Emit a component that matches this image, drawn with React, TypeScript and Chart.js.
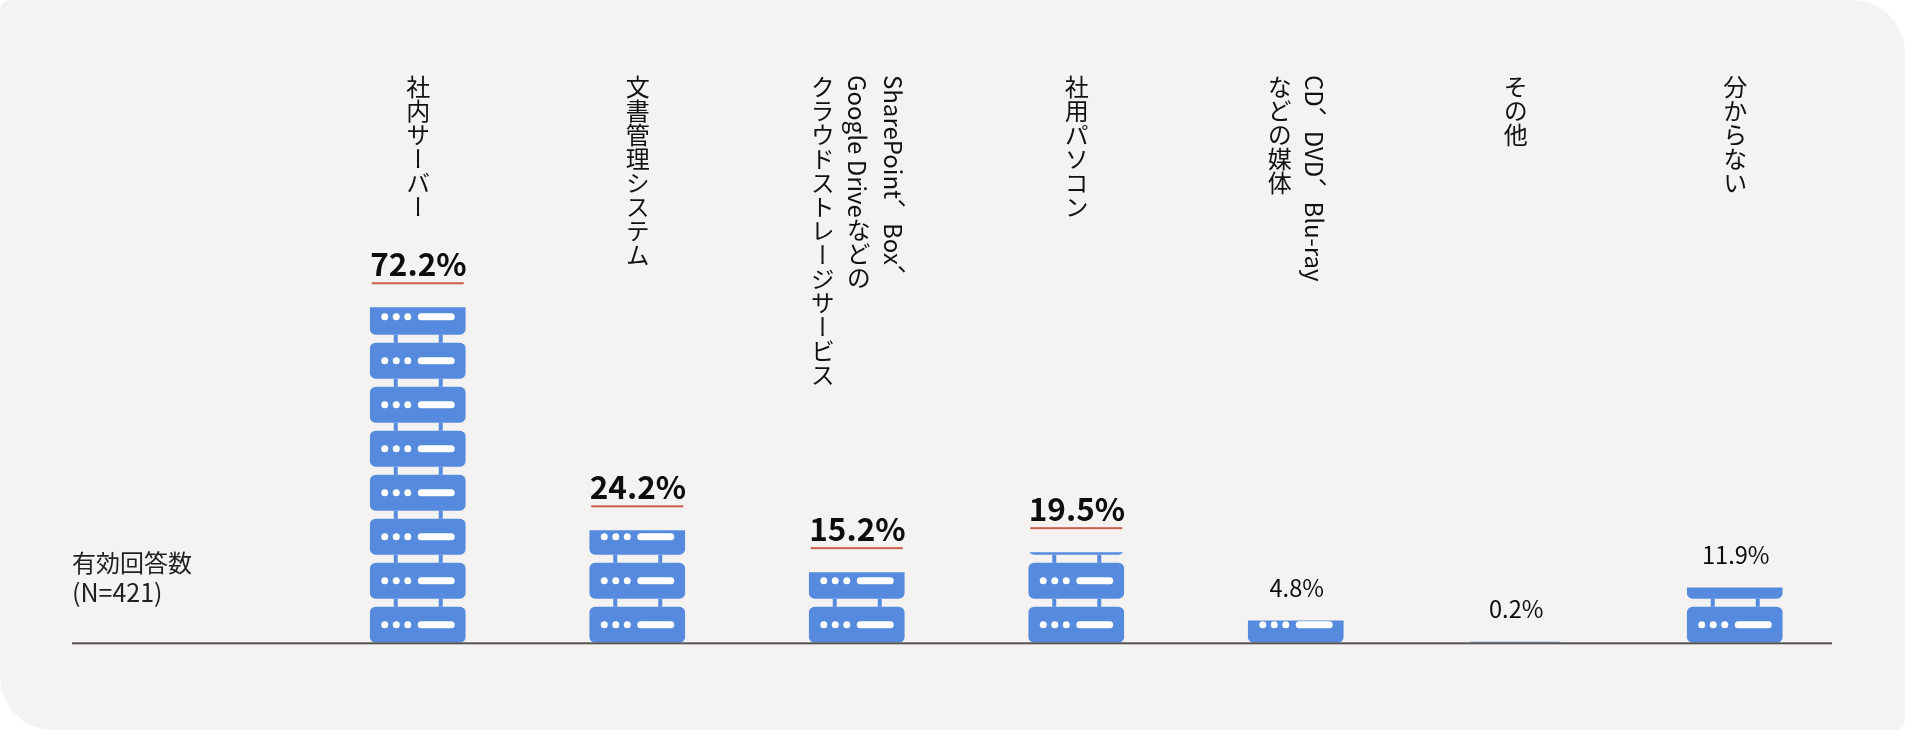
import React, { useEffect, useRef, useState } from "react";
import { Chart, registerables } from "chart.js";

Chart.register(...registerables);

const categories: string[][] = [
  ["社内サーバー"],
  ["文書管理システム"],
  ["SharePoint、Box、", "Google Driveなどの", "クラウドストレージサービス"],
  ["社用パソコン"],
  ["CD、DVD、Blu-ray", "などの媒体"],
  ["その他"],
  ["分からない"],
];
const values: number[] = [72.2, 24.2, 15.2, 19.5, 4.8, 0.2, 11.9];
const emphasised: boolean[] = [true, true, true, true, false, false, false];
const noteLines: string[] = ["有効回答数", "(N=421)"];

const FONT = '"Noto Sans CJK JP", "Noto Sans", sans-serif';
const BLUE = "#558ade";
const PANEL = "#f4f3f1";

const serverBars = {
  id: "serverBars",
  afterDatasetsDraw(chart: any) {
    const { ctx, scales } = chart;
    const zero = scales.y.getPixelForValue(0);
    const base = zero + 0.5;
    chart.getDatasetMeta(0).data.forEach((bar: any) => {
      const { x, y, width } = bar.getProps(["x", "y", "width"], true);
      const left = x - width / 2;
      ctx.save();
      ctx.beginPath();
      ctx.rect(left, y + 0.5, width, zero - y);
      ctx.clip();
      for (let unitBottom = base; unitBottom > y - 44; unitBottom -= 44) {
        const top = unitBottom - 36;
        ctx.fillStyle = BLUE;
        ctx.beginPath();
        ctx.roundRect(left, top, width, 36, 6);
        ctx.fill();
        ctx.fillRect(left + 24, top - 8, 4, 8);
        ctx.fillRect(left + 69, top - 8, 4, 8);
        ctx.fillStyle = "#ffffff";
        const cy = top + 18;
        [15, 26.5, 38].forEach((dx) => {
          ctx.beginPath();
          ctx.arc(left + dx, cy, 3.5, 0, Math.PI * 2);
          ctx.fill();
        });
        ctx.beginPath();
        ctx.roundRect(left + 48, cy - 3.5, 37, 7, 3.5);
        ctx.fill();
      }
      ctx.restore();
    });
  },
};

const valueLabels = {
  id: "valueLabels",
  afterDatasetsDraw(chart: any) {
    const { ctx, scales } = chart;
    ctx.save();
    ctx.textAlign = "center";
    ctx.textBaseline = "alphabetic";
    chart.getDatasetMeta(0).data.forEach((bar: any, i: number) => {
      const { x, y } = bar.getProps(["x", "y"], true);
      const text = `${values[i].toFixed(1)}%`;
      ctx.fillStyle = "#0d0d0d";
      if (emphasised[i]) {
        ctx.font = `700 31.5px ${FONT}`;
        ctx.fillText(text, x + 0.7, y - 31);
        ctx.fillStyle = "#c9604c";
        ctx.fillRect(x - 46, y - 24.5, 92, 2);
      } else {
        ctx.font = `400 23.6px ${FONT}`;
        ctx.fillText(text, x + 1, y - 23);
      }
    });
    const base = scales.y.getPixelForValue(0);
    ctx.fillStyle = "#555250";
    ctx.fillRect(72, base, 1760, 2);
    ctx.textAlign = "left";
    ctx.fillStyle = "#1f1f1f";
    noteLines.forEach((line, i) => {
      ctx.font = `400 ${i === 0 ? 24 : 25}px ${FONT}`;
      ctx.fillText(line, 72, base - 70 + i * 30);
    });
    ctx.restore();
  },
};

export default function App() {
  const ref = useRef<HTMLCanvasElement>(null);
  const [tickX, setTickX] = useState<number[]>([]);

  useEffect(() => {
    document.documentElement.style.background = "#fff";
    document.body.style.margin = "0";
    document.body.style.overflow = "hidden";
    const chart = new Chart(ref.current!, {
      type: "bar",
      data: {
        labels: categories.map((c) => c.join("")),
        datasets: [
          {
            data: values,
            backgroundColor: "rgba(0,0,0,0)",
            barThickness: 96,
          },
        ],
      },
      options: {
        responsive: false,
        animation: false,
        layout: { padding: { left: 308, right: 60.5, top: 0, bottom: 79.7 } },
        plugins: { legend: { display: false }, tooltip: { enabled: false } },
        scales: {
          x: {
            type: "category",
            grid: { display: false },
            border: { display: false },
            ticks: { display: false },
          },
          y: {
            min: 0,
            max: 138.2,
            display: false,
          },
        },
      },
      plugins: [serverBars, valueLabels],
    });
    setTickX(categories.map((_, i) => chart.scales.x.getPixelForTick(i)));
    return () => chart.destroy();
  }, []);

  return (
    <div
      lang="ja"
      style={{
        position: "relative",
        width: 1905,
        height: 730,
        background: PANEL,
        borderRadius: "10px 53px 10px 53px",
        overflow: "hidden",
      }}
    >
      <canvas ref={ref} width={1905} height={730} style={{ display: "block" }} />
      {tickX.map((x, i) => (
        <div
          key={i}
          style={{
            position: "absolute",
            left: x + (categories[i].length > 1 ? 1.5 : 0),
            top: 75,
            transform: "translateX(-50%)",
            writingMode: "vertical-rl",
            fontFamily: FONT,
            fontSize: 24,
            lineHeight: "35.8px",
            color: "#111",
            whiteSpace: "nowrap",
          }}
        >
          {categories[i].map((line, j) => (
            <div key={j}>{line}</div>
          ))}
        </div>
      ))}
    </div>
  );
}
